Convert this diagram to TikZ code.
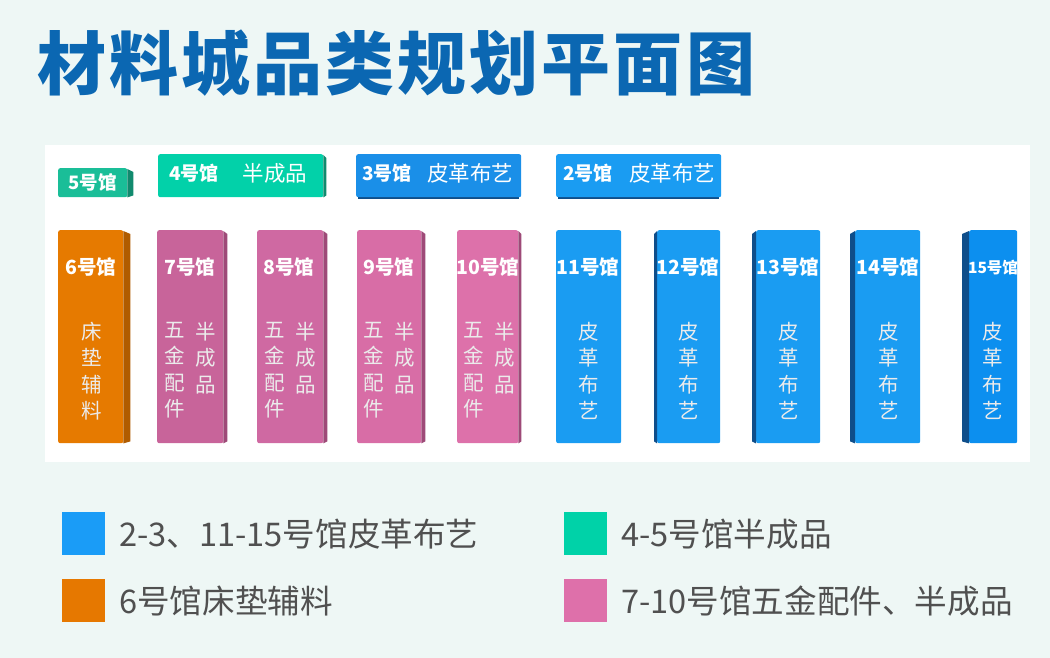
\documentclass[tikz,border=0pt]{standalone}
\usepackage{fontspec}
\setmainfont{Noto Sans CJK SC}
\newfontfamily\titlefam[LetterSpace=4.5]{Noto Sans CJK SC}
\definecolor{bgc}{HTML}{EEF7F5}
\definecolor{titlec}{HTML}{0B67B2}
\definecolor{orangec}{HTML}{E67A00}
\definecolor{orangeside}{HTML}{B05C00}
\definecolor{pinkA}{HTML}{C8649A}
\definecolor{pinkB}{HTML}{CF69A2}
\definecolor{pinkC}{HTML}{D86DA6}
\definecolor{pinkD}{HTML}{DD71AA}
\definecolor{pinkside}{HTML}{9E4A78}
\definecolor{blueA}{HTML}{1A9CF2}
\definecolor{blueB}{HTML}{1A8FE8}
\definecolor{blueE}{HTML}{0C8FEF}
\definecolor{blueside}{HTML}{0F4E8A}
\definecolor{tealA}{HTML}{1ABE98}
\definecolor{tealB}{HTML}{02D1A9}
\definecolor{tealside}{HTML}{118A6E}
\definecolor{legtext}{HTML}{505050}
\definecolor{legblue}{HTML}{1A9CF7}
\definecolor{legteal}{HTML}{00D2A8}
\definecolor{legorange}{HTML}{E67800}
\definecolor{legpink}{HTML}{DE70AA}
\tikzset{
  hallbox/.style={rounded corners=2pt, draw=none, inner sep=0pt, anchor=north west},
  hdr/.style={text=white, font=\fontsize{19.5}{21}\selectfont\bfseries, inner sep=0pt},
  vtxt/.style={text=white!92!black, font=\fontsize{20.5}{26.3}\selectfont, align=center, inner sep=0pt, anchor=north},
  toptxt/.style={text=white, inner sep=0pt},
  legsq/.style={draw=none, inner sep=0pt, minimum width=43pt, minimum height=43pt, anchor=north west},
  legtxt/.style={text=legtext, font=\fontsize{32.6}{36}\selectfont, anchor=west, inner sep=0pt}
}
\newcommand{\hallnode}[6]{%
  \node[hallbox, fill=#6, minimum width=#4pt-#2pt, minimum height=#5pt-#3pt] (#1) at (#2,#3) {};}
\newcommand{\rside}[3]{%
  \fill[#3] ([yshift=-1pt]#1.north east) -- ([xshift=#2pt,yshift=-4pt]#1.north east) -- ([xshift=#2pt,yshift=2pt]#1.south east) -- (#1.south east) -- cycle;}
\newcommand{\lside}[3]{%
  \fill[#3] ([yshift=-1pt]#1.north west) -- ([xshift=-#2pt,yshift=-4pt]#1.north west) -- ([xshift=-#2pt,yshift=2pt]#1.south west) -- (#1.south west) -- cycle;}
\begin{document}
\begin{tikzpicture}[x=1pt,y=-1pt]
\fill[bgc] (0,0) rectangle (1050,658);
\useasboundingbox (0,0) rectangle (1050,658);
\node[fill=white, inner sep=0pt, minimum width=985pt, minimum height=317pt, anchor=north west] (panel) at (45,145) {};
% title
\node[anchor=west, text=titlec, inner sep=0pt, font=\titlefam\fontsize{69}{72}\selectfont\bfseries] (title) at (37,63) {材料城品类规划平面图};
% top row
\hallnode{h5}{58}{168}{127}{197}{tealA}
\rside{h5}{6}{tealside}
\node[toptxt, font=\fontsize{18.5}{20}\selectfont\bfseries] (t5) at (h5.center) {5号馆};
\hallnode{h4}{158}{154}{323}{197}{tealB}
\rside{h4}{3}{tealside}
\node[toptxt, font=\fontsize{19}{20}\selectfont\bfseries] (t4a) at (194,173) {4号馆};
\node[toptxt, font=\fontsize{21.5}{22}\selectfont] (t4b) at (275,173) {半成品};
\fill[blueside] (358,195) rectangle (519,199);
\hallnode{h3}{356}{154}{521}{197}{blueB}
\node[toptxt, font=\fontsize{19}{20}\selectfont\bfseries] (t3a) at (387,173) {3号馆};
\node[toptxt, font=\fontsize{21.5}{22}\selectfont] (t3b) at (470,173) {皮革布艺};
\fill[blueside] (558,195) rectangle (719,199);
\hallnode{h2}{556}{154}{721}{197}{blueA}
\node[toptxt, font=\fontsize{19}{20}\selectfont\bfseries] (t2a) at (588,173) {2号馆};
\node[toptxt, font=\fontsize{21.5}{22}\selectfont] (t2b) at (672,173) {皮革布艺};
% columns
\hallnode{h6}{58}{230}{123}{443}{orangec}
\rside{h6}{7}{orangeside}
\hallnode{h7}{157}{230}{223}{443}{pinkA}
\rside{h7}{4}{pinkside}
\hallnode{h8}{257}{230}{323}{443}{pinkB}
\rside{h8}{4}{pinkside}
\hallnode{h9}{357}{230}{421}{443}{pinkC}
\rside{h9}{4}{pinkside}
\hallnode{h10}{457}{230}{518}{443}{pinkD}
\rside{h10}{3}{pinkside}
\hallnode{h11}{556}{230}{621}{443}{blueA}
\hallnode{h12}{657}{230}{720}{443}{blueA}
\lside{h12}{3}{blueside}
\hallnode{h13}{756}{230}{820}{443}{blueA}
\lside{h13}{4}{blueside}
\hallnode{h14}{855}{230}{920}{443}{blueA}
\lside{h14}{5}{blueside}
\hallnode{h15}{969}{230}{1017}{443}{blueE}
\lside{h15}{7}{blueside}
% headers
\node[hdr] (c6) at (91,267) {6号馆};
\node[hdr] (c7) at (190,267) {7号馆};
\node[hdr] (c8) at (289,267) {8号馆};
\node[hdr] (c9) at (389,267) {9号馆};
\node[hdr] (c10) at (488,267) {10号馆};
\node[hdr] (c11) at (588,267) {11号馆};
\node[hdr] (c12) at (688,267) {12号馆};
\node[hdr] (c13) at (788,267) {13号馆};
\node[hdr] (c14) at (888,267) {14号馆};
\node[hdr, font=\fontsize{15.5}{17}\selectfont\bfseries] (c15) at (993,268) {15号馆};
% vertical texts
\node[vtxt] (v6) at (92,322) {床\\垫\\辅\\料};
\node[vtxt] (v7a) at (175,322) {五\\金\\配\\件};
\node[vtxt] (v7b) at (206,322) {半\\成\\品};
\node[vtxt] (v8a) at (275,322) {五\\金\\配\\件};
\node[vtxt] (v8b) at (306,322) {半\\成\\品};
\node[vtxt] (v9a) at (374,322) {五\\金\\配\\件};
\node[vtxt] (v9b) at (405,322) {半\\成\\品};
\node[vtxt] (v10a) at (474,322) {五\\金\\配\\件};
\node[vtxt] (v10b) at (505,322) {半\\成\\品};
\node[vtxt] (v11) at (589,322) {皮\\革\\布\\艺};
\node[vtxt] (v12) at (689,322) {皮\\革\\布\\艺};
\node[vtxt] (v13) at (789,322) {皮\\革\\布\\艺};
\node[vtxt] (v14) at (889,322) {皮\\革\\布\\艺};
\node[vtxt] (v15) at (993,322) {皮\\革\\布\\艺};
% legend
\node[legsq, fill=legblue] (lq1) at (62,512) {};
\node[legtxt] (lt1) at (119,534) {2-3、11-15号馆皮革布艺};
\node[legsq, fill=legorange] (lq2) at (62,579) {};
\node[legtxt] (lt2) at (119,601) {6号馆床垫辅料};
\node[legsq, fill=legteal] (lq3) at (564,512) {};
\node[legtxt] (lt3) at (621,534) {4-5号馆半成品};
\node[legsq, fill=legpink] (lq4) at (564,579) {};
\node[legtxt] (lt4) at (621,601) {7-10号馆五金配件、半成品};
\end{tikzpicture}
\end{document}
